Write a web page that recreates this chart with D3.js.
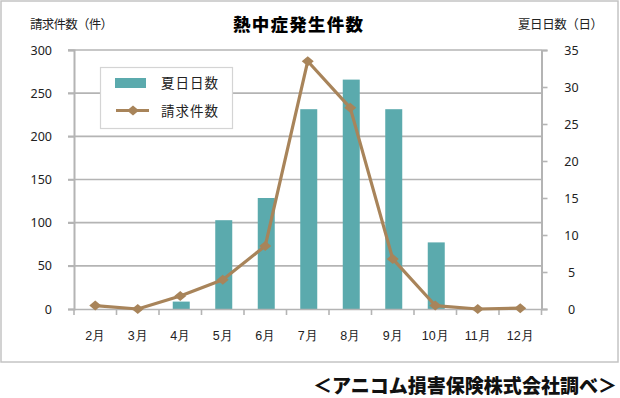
<!DOCTYPE html>
<html>
<head>
<meta charset="utf-8">
<script src="https://cdn.jsdelivr.net/npm/d3@7"></script>
<style>
  body { margin: 0; background: #fff; }
  svg { display: block; font-family: "Noto Sans CJK JP", "Noto Sans", sans-serif; }
</style>
</head>
<body>
<div id="container"><svg></svg></div>
<script>
let width = 620;
let height = 398;

// data
let months = ['2月', '3月', '4月', '5月', '6月', '7月', '8月', '9月', '10月', '11月', '12月'];
let summerDays = [0, 0, 1, 12, 15, 27, 31, 27, 9, 0, 0];       // 夏日日数 (right axis)
let claims = [4, 0, 15, 34, 73, 287, 233, 58, 4, 0, 1];        // 請求件数 (left axis)
let leftTicks = [0, 50, 100, 150, 200, 250, 300];
let rightTicks = [0, 5, 10, 15, 20, 25, 30, 35];

let barColor = '#5baaad';
let lineColor = '#a8845a';
let gridColor = '#b4b4b4';

let plot = {left: 74, right: 541.5, top: 50, bottom: 309};

function draw_chart() {
    let svg = d3.select('#container').select('svg')
        .attr('width', width)
        .attr('height', height);

    // outer frame
    svg.append('rect')
        .attr('x', 1).attr('y', 1)
        .attr('width', 617).attr('height', 361)
        .attr('fill', '#fff')
        .attr('stroke', '#c4c4c4')
        .attr('stroke-width', 1.5);

    let x = d3.scaleBand().domain(months).range([plot.left, plot.right]).padding(0);
    let yL = d3.scaleLinear().domain([0, 300]).range([plot.bottom, plot.top]);
    let yR = d3.scaleLinear().domain([0, 35]).range([plot.bottom, plot.top]);

    // gridlines
    svg.append('g')
        .selectAll('line')
        .data(leftTicks.slice(1))
        .join('line')
        .attr('x1', plot.left - 6)
        .attr('x2', plot.right)
        .attr('y1', d => yL(d))
        .attr('y2', d => yL(d))
        .attr('stroke', gridColor)
        .attr('stroke-width', 1.6);

    // left axis
    let gL = svg.append('g')
        .attr('transform', `translate(${plot.left},0)`)
        .call(d3.axisLeft(yL).tickValues(leftTicks).tickSize(6).tickPadding(16));
    gL.select('.domain').attr('stroke', gridColor).attr('stroke-width', 2);
    gL.selectAll('.tick line').attr('stroke', gridColor).attr('stroke-width', 1.6);
    gL.selectAll('.tick text').attr('font-size', 12.5).attr('fill', '#222')
        .attr('font-family', '"Noto Sans", sans-serif');

    // right axis
    let gR = svg.append('g')
        .attr('transform', `translate(${plot.right},0)`)
        .call(d3.axisRight(yR).tickValues(rightTicks).tickSize(6).tickPadding(0));
    gR.select('.domain').attr('stroke', gridColor).attr('stroke-width', 2);
    gR.selectAll('.tick line').attr('stroke', gridColor).attr('stroke-width', 1.6);
    gR.selectAll('.tick text').attr('font-size', 12.5).attr('fill', '#222')
        .attr('text-anchor', 'middle').attr('x', 30)
        .attr('font-family', '"Noto Sans", sans-serif');

    // bars
    let bw = x.bandwidth() * 0.4;
    svg.append('g')
        .selectAll('rect')
        .data(months.map((m, i) => ({m: m, v: summerDays[i]})).filter(d => d.v > 0))
        .join('rect')
        .attr('x', d => x(d.m) + x.bandwidth() / 2 - bw / 2 + 1)
        .attr('y', d => yR(d.v))
        .attr('width', bw)
        .attr('height', d => yR(0) - yR(d.v))
        .attr('fill', barColor);

    // x axis
    let gX = svg.append('g')
        .attr('transform', `translate(0,${plot.bottom})`)
        .call(d3.axisBottom(x).tickSize(0).tickPadding(22));
    gX.select('.domain').attr('stroke', gridColor).attr('stroke-width', 1.6);
    gX.selectAll('.tick text').attr('font-size', 12.5).attr('fill', '#222');
    // category separators
    gX.append('g')
        .selectAll('line')
        .data(months.concat(['end']))
        .join('line')
        .attr('x1', (d, i) => plot.left + i * x.step())
        .attr('x2', (d, i) => plot.left + i * x.step())
        .attr('y1', 0)
        .attr('y2', 6)
        .attr('stroke', gridColor)
        .attr('stroke-width', 1.6);

    // line
    let pts = months.map((m, i) => [x(m) + x.bandwidth() / 2, yL(claims[i])]);
    svg.append('path')
        .attr('d', d3.line()(pts))
        .attr('fill', 'none')
        .attr('stroke', lineColor)
        .attr('stroke-width', 3.2)
        .attr('stroke-linejoin', 'round');

    let diamond = 'M0,-5L6,0L0,5L-6,0Z';
    svg.append('g')
        .selectAll('path')
        .data(pts)
        .join('path')
        .attr('d', diamond)
        .attr('transform', d => `translate(${d[0]},${d[1]})`)
        .attr('fill', lineColor);

    // legend
    let lg = svg.append('g');
    lg.append('rect')
        .attr('x', 100.5).attr('y', 67.5)
        .attr('width', 132).attr('height', 61)
        .attr('fill', '#fff')
        .attr('stroke', '#d4d4d4')
        .attr('stroke-width', 1.2);
    lg.append('rect')
        .attr('x', 115).attr('y', 78)
        .attr('width', 31).attr('height', 10)
        .attr('fill', barColor);
    lg.append('line')
        .attr('x1', 116).attr('x2', 149)
        .attr('y1', 110.5).attr('y2', 110.5)
        .attr('stroke', lineColor)
        .attr('stroke-width', 3.2);
    lg.append('path')
        .attr('d', diamond)
        .attr('transform', 'translate(133,110.5)')
        .attr('fill', lineColor);
    lg.append('text')
        .attr('x', 161).attr('y', 88)
        .attr('font-size', 13.5).attr('fill', '#222')
        .attr('textLength', 57)
        .text('夏日日数');
    lg.append('text')
        .attr('x', 161).attr('y', 115.5)
        .attr('font-size', 13.5).attr('fill', '#222')
        .attr('textLength', 57)
        .text('請求件数');

    // titles
    svg.append('text')
        .attr('x', 233).attr('y', 31)
        .attr('font-size', 17.5).attr('font-weight', 900).attr('fill', '#000')
        .attr('textLength', 130)
        .text('熱中症発生件数');
    svg.append('text')
        .attr('x', 30).attr('y', 29)
        .attr('font-size', 12.5).attr('fill', '#222')
        .attr('textLength', 83)
        .text('請求件数（件）');
    svg.append('text')
        .attr('x', 518).attr('y', 29)
        .attr('font-size', 12.5).attr('fill', '#222')
        .attr('textLength', 85)
        .text('夏日日数（日）');

    // footer
    svg.append('text')
        .attr('x', 313).attr('y', 393)
        .attr('font-size', 19).attr('font-weight', 900).attr('fill', '#111')
        .attr('textLength', 304)
        .text('＜アニコム損害保険株式会社調べ＞');
}

draw_chart();
</script>
</body>
</html>
